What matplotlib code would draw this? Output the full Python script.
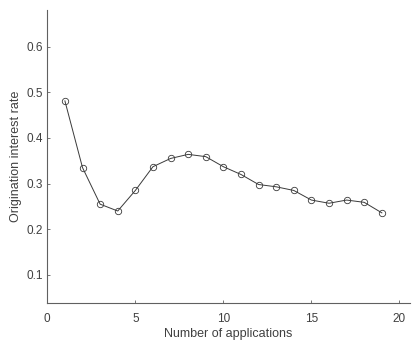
import numpy as np
import matplotlib.pyplot as plt

plt.rcParams['font.family'] = ['Liberation Sans', 'DejaVu Sans']

# number of applications
n_apps = np.arange(1, 20)
# origination interest rate
rate = [0.481, 0.335, 0.255, 0.240, 0.285, 0.337, 0.355, 0.364, 0.359, 0.337,
        0.320, 0.298, 0.293, 0.285, 0.264, 0.257, 0.264, 0.259, 0.236]
x_ticks = [0, 5, 10, 15, 20]
y_ticks = [0.1, 0.2, 0.3, 0.4, 0.5, 0.6]

fig = plt.figure(figsize=(4.15, 3.44), dpi=100)
ax = fig.add_axes([47.3 / 415, 1 - 303.3 / 344, (410 - 47.3) / 415, (303.3 - 10) / 344])

ax.plot(n_apps, rate, color='#3a3a3a', linewidth=0.7, marker='o', markersize=4.6,
        markerfacecolor='none', markeredgecolor='#3a3a3a', markeredgewidth=0.6)

ax.set_xlim(0, 20.6)
ax.set_ylim(0.038, 0.68)
ax.set_xticks(x_ticks)
ax.set_yticks(y_ticks)
ax.set_yticklabels([f'{v:.1f}' for v in y_ticks])

for s in ['top', 'right']:
    ax.spines[s].set_visible(False)
for s in ['left', 'bottom']:
    ax.spines[s].set_color('#606060')
    ax.spines[s].set_linewidth(0.8)
ax.tick_params(direction='in', length=2.5, width=0.6, color='#606060',
               labelsize=8.5, labelcolor='#404040')
ax.tick_params(axis='x', pad=7)
ax.tick_params(axis='y', pad=3)

ax.set_xlabel('Number of applications', fontsize=9, color='#404040', labelpad=2)
ax.set_ylabel('Origination interest rate', fontsize=9, color='#404040', labelpad=3)

fig.savefig('out.png', dpi=100)
